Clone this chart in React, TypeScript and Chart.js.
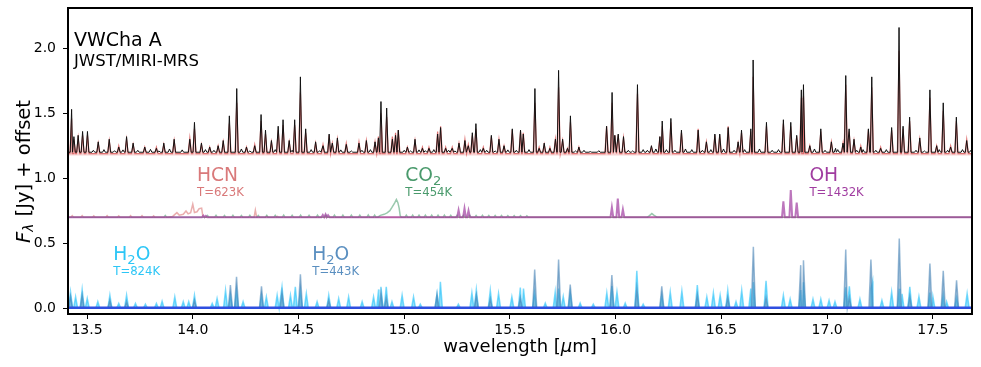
import React, { useEffect, useRef } from "react";
import { Chart, registerables } from "chart.js";
Chart.register(...registerables);

const FONT = "'DejaVu Sans', 'Liberation Sans', sans-serif";

// axis limits and ticks
const xLimits: [number, number] = [13.41, 17.685];
const yLimits: [number, number] = [-0.045, 2.31];
const xTickValues = [13.5, 14.0, 14.5, 15.0, 15.5, 16.0, 16.5, 17.0, 17.5];
const yTickValues = [0.0, 0.5, 1.0, 1.5, 2.0];

type P = [number, number];

// ---- observed spectrum (offset) ----
const obsBase = 1.2;
const obsPeaks: P[] = [
  [13.427,1.53],[13.438,1.32],[13.458,1.33],[13.479,1.36],[13.502,1.36],[13.553,1.28],[13.605,1.30],[13.650,1.24],[13.687,1.32],[13.718,1.27],[13.773,1.24],[13.828,1.23],[13.863,1.27],[13.912,1.30],[13.986,1.30],[14.008,1.43],[14.041,1.27],[14.080,1.24],[14.120,1.25],[14.144,1.29],[14.173,1.48],[14.208,1.69],[14.254,1.24],[14.293,1.25],[14.323,1.49],[14.344,1.37],[14.372,1.29],[14.404,1.40],[14.427,1.45],[14.456,1.29],[14.482,1.45],[14.509,1.78],[14.534,1.38],[14.581,1.28],[14.616,1.25],[14.645,1.34],[14.660,1.27],[14.684,1.31],[14.726,1.26],[14.786,1.27],[14.821,1.29],[14.862,1.28],[14.878,1.31],[14.890,1.59],[14.917,1.54],[14.944,1.30],[14.959,1.33],[14.972,1.37],[15.015,1.24],[15.051,1.30],[15.086,1.23],[15.117,1.23],[15.158,1.34],[15.172,1.39],[15.196,1.23],[15.227,1.23],[15.259,1.27],[15.287,1.29],[15.303,1.25],[15.322,1.35],[15.339,1.42],[15.374,1.23],[15.412,1.33],[15.448,1.30],[15.472,1.25],[15.511,1.38],[15.550,1.37],[15.563,1.34],[15.618,1.69],[15.638,1.23],[15.662,1.27],[15.689,1.23],[15.715,1.30],[15.730,1.83],[15.749,1.30],[15.772,1.23],[15.786,1.48],[15.826,1.24],[15.957,1.40],[15.983,1.66],[15.996,1.33],[16.012,1.34],[16.037,1.32],[16.103,1.72],[16.169,1.25],[16.209,1.32],[16.220,1.44],[16.261,1.46],[16.311,1.37],[16.390,1.37],[16.429,1.28],[16.469,1.34],[16.492,1.34],[16.532,1.39],[16.579,1.28],[16.595,1.37],[16.639,1.38],[16.650,1.91],[16.713,1.43],[16.793,1.45],[16.828,1.43],[16.856,1.33],[16.878,1.68],[16.888,1.72],[16.918,1.25],[16.970,1.38],[17.020,1.28],[17.075,1.27],[17.088,1.79],[17.104,1.38],[17.127,1.30],[17.159,1.24],[17.195,1.38],[17.211,1.78],[17.253,1.23],[17.305,1.39],[17.340,2.16],[17.359,1.40],[17.390,1.47],[17.438,1.31],[17.486,1.68],[17.518,1.25],[17.549,1.58],[17.584,1.24],[17.611,1.47],[17.660,1.29]
];
const obsMinor: P[] = [
  [13.53,1.215],[13.58,1.22],[13.63,1.212],[13.67,1.218],[13.74,1.215],[13.80,1.222],[13.84,1.21],[13.89,1.225],[13.95,1.218],[14.06,1.22],[14.10,1.215],[14.23,1.225],[14.27,1.21],[14.39,1.22],[14.47,1.215],[14.56,1.22],[14.60,1.212],[14.70,1.218],[14.75,1.21],[14.80,1.215],[14.84,1.22],[15.00,1.215],[15.03,1.21],[15.07,1.218],[15.10,1.212],[15.14,1.22],[15.21,1.215],[15.24,1.21],[15.36,1.22],[15.39,1.215],[15.43,1.21],[15.49,1.218],[15.53,1.215],[15.59,1.22],[15.81,1.21],[15.85,1.215],[15.88,1.205],[15.92,1.212],[16.06,1.215],[16.08,1.21],[16.13,1.22],[16.15,1.215],[16.19,1.225],[16.24,1.22],[16.28,1.215],[16.33,1.225],[16.36,1.22],[16.41,1.215],[16.45,1.22],[16.51,1.225],[16.56,1.215],[16.61,1.22],[16.68,1.225],[16.74,1.215],[16.77,1.22],[16.94,1.225],[16.99,1.215],[17.04,1.23],[17.05,1.22],[17.14,1.215],[17.17,1.22],[17.23,1.215],[17.28,1.22],[17.42,1.215],[17.46,1.21],[17.53,1.22],[17.57,1.215],[17.64,1.22],[17.68,1.215]
];

// ---- total slab model (offset) ----
const modelBase = 1.19;
const modelFillTo = 1.175;
const modelPeaks: P[] = [
  [13.427,1.46],[13.438,1.30],[13.458,1.31],[13.479,1.33],[13.502,1.33],[13.553,1.27],[13.605,1.29],[13.650,1.25],[13.687,1.30],[13.718,1.26],[13.773,1.24],[13.828,1.24],[13.863,1.26],[13.912,1.29],[13.986,1.31],[14.008,1.38],[14.041,1.26],[14.080,1.24],[14.120,1.25],[14.144,1.28],[14.173,1.42],[14.208,1.58],[14.254,1.24],[14.293,1.26],[14.323,1.44],[14.344,1.34],[14.372,1.28],[14.404,1.37],[14.427,1.41],[14.456,1.28],[14.482,1.41],[14.509,1.66],[14.534,1.35],[14.581,1.27],[14.616,1.26],[14.645,1.33],[14.660,1.27],[14.684,1.30],[14.726,1.27],[14.786,1.28],[14.821,1.29],[14.862,1.28],[14.878,1.32],[14.890,1.50],[14.917,1.47],[14.944,1.32],[14.959,1.35],[14.972,1.37],[15.015,1.24],[15.051,1.29],[15.086,1.24],[15.117,1.24],[15.158,1.36],[15.172,1.40],[15.196,1.24],[15.227,1.24],[15.259,1.27],[15.287,1.30],[15.303,1.26],[15.322,1.33],[15.339,1.38],[15.374,1.24],[15.412,1.32],[15.448,1.30],[15.472,1.25],[15.511,1.37],[15.550,1.36],[15.563,1.35],[15.618,1.58],[15.638,1.24],[15.662,1.26],[15.689,1.24],[15.715,1.30],[15.730,1.70],[15.749,1.29],[15.772,1.23],[15.786,1.43],[15.826,1.24],[15.957,1.40],[15.983,1.58],[15.996,1.33],[16.012,1.33],[16.037,1.31],[16.103,1.65],[16.169,1.24],[16.209,1.32],[16.220,1.40],[16.261,1.43],[16.311,1.35],[16.390,1.38],[16.429,1.28],[16.469,1.33],[16.492,1.33],[16.532,1.40],[16.579,1.27],[16.595,1.35],[16.639,1.36],[16.650,1.78],[16.713,1.40],[16.793,1.42],[16.828,1.40],[16.856,1.32],[16.878,1.62],[16.888,1.63],[16.918,1.25],[16.970,1.36],[17.020,1.28],[17.075,1.27],[17.088,1.72],[17.104,1.36],[17.127,1.29],[17.159,1.25],[17.195,1.37],[17.211,1.70],[17.253,1.24],[17.305,1.37],[17.340,1.98],[17.359,1.38],[17.390,1.44],[17.438,1.30],[17.486,1.62],[17.518,1.25],[17.549,1.52],[17.584,1.25],[17.611,1.44],[17.660,1.30]
];

// ---- individual molecules, middle panel ----
const midBase = 0.70;
const hcnPeaks: P[] = [
  [13.430,0.712],[13.477,0.712],[13.532,0.710],[13.595,0.712],[13.650,0.710],[13.706,0.712],[13.760,0.712],[13.815,0.710],[14.296,0.754],[14.35,0.706],[14.40,0.706]
];
const hcnBand: P[] = [
  [13.880,0.700],[13.905,0.706],[13.925,0.735],[13.936,0.716],[13.955,0.722],[13.968,0.748],[13.978,0.726],[13.990,0.735],[14.000,0.800],[14.008,0.736],[14.020,0.742],[14.030,0.765],[14.042,0.770],[14.048,0.705],[14.060,0.700]
];
const co2Peaks: P[] = [
  [13.87,0.713],[14.07,0.713],[14.11,0.714],[14.15,0.713],[14.19,0.714],[14.23,0.713],[14.27,0.714],[14.31,0.713],[14.35,0.714],[14.39,0.714],[14.43,0.715],[14.47,0.714],[14.51,0.715],[14.55,0.714],[14.59,0.715],[14.63,0.715],[14.67,0.716],[14.71,0.715],[14.75,0.716],[14.79,0.716],[14.83,0.717],[14.86,0.716],[15.01,0.716],[15.04,0.716],[15.07,0.715],[15.10,0.716],[15.13,0.715],[15.16,0.715],[15.19,0.715],[15.22,0.714],[15.25,0.714],[15.28,0.714],[15.31,0.714],[15.34,0.713],[15.37,0.714],[15.40,0.713],[15.43,0.713],[15.46,0.713],[15.49,0.712],[15.52,0.712],[15.55,0.712],[15.58,0.711]
];
const co2Band: P[] = [
  [14.875,0.700],[14.887,0.714],[14.905,0.722],[14.919,0.733],[14.932,0.750],[14.942,0.775],[14.955,0.810],[14.963,0.836],[14.970,0.812],[14.976,0.770],[14.981,0.712],[14.986,0.700],
  [16.150,0.700],[16.160,0.712],[16.171,0.728],[16.182,0.714],[16.195,0.700]
];
const ohPeaks: P[] = [
  [14.050,0.712],[14.062,0.710],[14.615,0.718],[14.628,0.721],[14.640,0.715],[15.257,0.754],[15.285,0.767],[15.304,0.750],[15.982,0.775],[16.010,0.844],[16.034,0.760],[16.793,0.823],[16.828,0.908],[16.856,0.813]
];

// ---- water, bottom panel ----
const h2oBase = 0.0;
const h2oWarmPeaks: P[] = [
  [13.422,0.125],[13.446,0.087],[13.477,0.144],[13.501,0.075],[13.551,0.05],[13.608,0.10],[13.650,0.036],[13.687,0.10],[13.729,0.036],[13.776,0.03],[13.828,0.036],[13.855,0.054],[13.915,0.087],[13.955,0.05],[13.981,0.05],[14.008,0.10],[14.092,0.036],[14.115,0.075],[14.155,0.138],[14.178,0.10],[14.207,0.14],[14.238,0.05],[14.325,0.10],[14.348,0.087],[14.399,0.10],[14.422,0.164],[14.462,0.10],[14.485,0.164],[14.509,0.14],[14.537,0.113],[14.588,0.05],[14.643,0.10],[14.690,0.075],[14.737,0.087],[14.801,0.05],[14.855,0.087],[14.879,0.144],[14.890,0.164],[14.915,0.164],[14.942,0.05],[14.990,0.10],[15.044,0.087],[15.076,0.03],[15.155,0.108],[15.171,0.203],[15.256,0.03],[15.320,0.118],[15.341,0.144],[15.407,0.138],[15.446,0.113],[15.509,0.087],[15.549,0.159],[15.564,0.151],[15.616,0.12],[15.667,0.04],[15.714,0.125],[15.730,0.15],[15.752,0.09],[15.785,0.12],[15.832,0.04],[15.894,0.03],[15.958,0.118],[15.982,0.17],[16.006,0.125],[16.045,0.04],[16.100,0.287],[16.130,0.03],[16.218,0.10],[16.258,0.125],[16.313,0.133],[16.386,0.177],[16.431,0.087],[16.462,0.118],[16.494,0.10],[16.530,0.138],[16.569,0.05],[16.596,0.138],[16.639,0.151],[16.651,0.20],[16.711,0.21],[16.793,0.10],[16.825,0.07],[16.875,0.14],[16.888,0.20],[16.933,0.07],[16.970,0.07],[17.009,0.06],[17.037,0.05],[17.088,0.16],[17.105,0.169],[17.155,0.07],[17.207,0.15],[17.215,0.208],[17.259,0.06],[17.305,0.125],[17.341,0.15],[17.354,0.11],[17.391,0.164],[17.434,0.09],[17.486,0.12],[17.500,0.09],[17.549,0.10],[17.565,0.05],[17.612,0.08],[17.662,0.113]
];
const h2oColdPeaks: P[] = [
  [13.422,0.09],[13.477,0.10],[13.608,0.06],[13.687,0.05],[14.008,0.06],[14.178,0.177],[14.207,0.241],[14.325,0.169],[14.422,0.12],[14.509,0.26],[14.643,0.06],[14.890,0.12],[14.915,0.08],[15.155,0.108],[15.341,0.10],[15.407,0.07],[15.549,0.08],[15.617,0.297],[15.730,0.374],[15.785,0.182],[15.982,0.254],[16.100,0.15],[16.218,0.169],[16.386,0.10],[16.530,0.08],[16.651,0.472],[16.711,0.08],[16.875,0.331],[16.888,0.369],[17.088,0.451],[17.105,0.08],[17.207,0.374],[17.341,0.536],[17.391,0.09],[17.486,0.344],[17.549,0.287],[17.612,0.215]
];
const h2oTotalLine: P[] = [[13.40,0.004],[17.70,0.004]];

// labels
const moleculeLabels = [
  { name: "HCN", sub: "", tail: "", temp: "T=623K", x: 14.02, color: "#d9797a" },
  { name: "CO", sub: "2", tail: "", temp: "T=454K", x: 15.005, color: "#4a9a6c" },
  { name: "OH", sub: "", tail: "", temp: "T=1432K", x: 16.916, color: "#a03ca0" },
];
const waterLabels = [
  { name: "H", sub: "2", tail: "O", temp: "T=824K", x: 13.624, color: "#2cc6f6" },
  { name: "H", sub: "2", tail: "O", temp: "T=443K", x: 14.565, color: "#5a8fc0" },
];

function buildSeries(peaks: P[], base: number, hw: number, extra: P[] = []) {
  const pts: { x: number; y: number }[] = [];
  pts.push({ x: xLimits[0] - 0.02, y: base });
  pts.push({ x: xLimits[1] + 0.02, y: base });
  for (const [lam, v] of peaks) {
    pts.push({ x: lam - hw, y: base }, { x: lam, y: v }, { x: lam + hw, y: base });
  }
  for (const [lam, v] of extra) pts.push({ x: lam, y: v });
  pts.sort((a, b) => a.x - b.x);
  return pts;
}

function drawParts(ctx: CanvasRenderingContext2D, x: number, y: number, main: string, sub: string, tail: string, size: number, color: string) {
  ctx.fillStyle = color;
  ctx.textAlign = "left";
  ctx.textBaseline = "alphabetic";
  ctx.font = `${size}px ${FONT}`;
  ctx.fillText(main, x, y);
  let cx = x + ctx.measureText(main).width;
  if (sub) {
    ctx.font = `${size * 0.7}px ${FONT}`;
    ctx.fillText(sub, cx, y + size * 0.22);
    cx += ctx.measureText(sub).width;
  }
  if (tail) {
    ctx.font = `${size}px ${FONT}`;
    ctx.fillText(tail, cx, y);
  }
}

const annotationPlugin = {
  id: "annotations",
  afterDraw(chart: any) {
    const ctx: CanvasRenderingContext2D = chart.ctx;
    const { left, right, top, bottom } = chart.chartArea;
    const xs = chart.scales.x;
    const ys = chart.scales.y;
    ctx.save();
    // frame
    ctx.strokeStyle = "#000";
    ctx.lineWidth = 2;
    ctx.strokeRect(left, top, right - left, bottom - top);

    // title texts
    ctx.fillStyle = "#000";
    ctx.textAlign = "left";
    ctx.textBaseline = "alphabetic";
    ctx.font = `19px ${FONT}`;
    ctx.fillText("VWCha A", left + 6, top + 38);
    ctx.font = `16.5px ${FONT}`;
    ctx.fillText("JWST/MIRI-MRS", left + 6, top + 58);

    // molecule labels
    for (const l of moleculeLabels) {
      const px = xs.getPixelForValue(l.x);
      drawParts(ctx, px, ys.getPixelForValue(0.98), l.name, l.sub, l.tail, 18.7, l.color);
      ctx.font = `11.7px ${FONT}`;
      ctx.fillStyle = l.color;
      ctx.fillText(l.temp, px, ys.getPixelForValue(0.864));
    }
    for (const l of waterLabels) {
      const px = xs.getPixelForValue(l.x);
      drawParts(ctx, px, ys.getPixelForValue(0.37), l.name, l.sub, l.tail, 18.7, l.color);
      ctx.font = `11.7px ${FONT}`;
      ctx.fillStyle = l.color;
      ctx.fillText(l.temp, px, ys.getPixelForValue(0.254));
    }

    // x axis title
    ctx.fillStyle = "#000";
    ctx.textBaseline = "middle";
    const xt1 = "wavelength [";
    const xt2 = "\u03bc";
    const xt3 = "m]";
    ctx.font = `18px ${FONT}`;
    const w1 = ctx.measureText(xt1).width;
    const w3 = ctx.measureText(xt3).width;
    ctx.font = `italic 18px ${FONT}`;
    const w2 = ctx.measureText(xt2).width;
    let sx = (left + right) / 2 - (w1 + w2 + w3) / 2;
    const ty = 347;
    ctx.font = `18px ${FONT}`;
    ctx.fillText(xt1, sx, ty);
    sx += w1;
    ctx.font = `italic 18px ${FONT}`;
    ctx.fillText(xt2, sx, ty);
    sx += w2;
    ctx.font = `18px ${FONT}`;
    ctx.fillText(xt3, sx, ty);

    // y axis title (rotated)
    ctx.save();
    ctx.translate(25, 172);
    ctx.rotate(-Math.PI / 2);
    const fs = 19.5;
    ctx.font = `italic ${fs}px ${FONT}`;
    const a = "F";
    const wa = ctx.measureText(a).width;
    ctx.font = `italic ${fs * 0.7}px ${FONT}`;
    const b = "\u03bb";
    const wb = ctx.measureText(b).width;
    ctx.font = `${fs}px ${FONT}`;
    const c = " [Jy] + offset";
    const wc = ctx.measureText(c).width;
    let yx = -(wa + wb + wc) / 2;
    ctx.textBaseline = "middle";
    ctx.font = `italic ${fs}px ${FONT}`;
    ctx.fillText(a, yx, 0);
    yx += wa;
    ctx.font = `italic ${fs * 0.7}px ${FONT}`;
    ctx.fillText(b, yx, fs * 0.25);
    yx += wb + 1;
    ctx.font = `${fs}px ${FONT}`;
    ctx.fillText(c, yx, 0);
    ctx.restore();

    ctx.restore();
  },
};

export default function App() {
  const canvasRef = useRef<HTMLCanvasElement | null>(null);

  useEffect(() => {
    const canvas = canvasRef.current;
    if (!canvas) return;

    const datasets: any[] = [
      {
        label: "observed",
        data: buildSeries([...obsPeaks, ...obsMinor], obsBase, 0.0065),
        borderColor: "#111111",
        borderWidth: 1,
        pointRadius: 0,
        fill: false,
        order: 1,
      },
      {
        label: "model",
        data: buildSeries(modelPeaks, modelBase, 0.008),
        borderColor: "rgba(214,72,72,0.75)",
        backgroundColor: "rgba(232,140,140,0.38)",
        borderWidth: 1.2,
        pointRadius: 0,
        fill: { value: modelFillTo },
        order: 2,
      },
      {
        label: "OH",
        data: buildSeries(ohPeaks, midBase, 0.0065),
        borderColor: "rgba(160,60,160,0.7)",
        borderWidth: 2,
        pointRadius: 0,
        fill: false,
        order: 3,
      },
      {
        label: "CO2",
        data: buildSeries(co2Peaks, midBase, 0.006, co2Band),
        borderColor: "rgba(70,155,105,0.55)",
        borderWidth: 1.5,
        pointRadius: 0,
        fill: false,
        order: 4,
      },
      {
        label: "HCN",
        data: buildSeries(hcnPeaks, midBase, 0.006, hcnBand),
        borderColor: "rgba(220,120,120,0.6)",
        borderWidth: 1.5,
        pointRadius: 0,
        fill: false,
        order: 5,
      },
      {
        label: "H2O total",
        data: h2oTotalLine.map(([x, y]) => ({ x, y })),
        borderColor: "#2f4fe0",
        borderWidth: 2.5,
        pointRadius: 0,
        fill: false,
        order: 6,
      },
      {
        label: "H2O 443K",
        data: buildSeries(h2oColdPeaks, h2oBase, 0.0095),
        borderColor: "rgba(70,130,180,0.55)",
        backgroundColor: "rgba(70,130,180,0.45)",
        borderWidth: 1.5,
        pointRadius: 0,
        fill: { value: h2oBase },
        order: 7,
      },
      {
        label: "H2O 824K",
        data: buildSeries(h2oWarmPeaks, h2oBase, 0.0095),
        borderColor: "rgba(40,195,250,0.6)",
        backgroundColor: "rgba(40,195,250,0.5)",
        borderWidth: 1.5,
        pointRadius: 0,
        fill: { value: h2oBase },
        order: 8,
      },
    ];

    const chart = new Chart(canvas, {
      type: "line",
      data: { datasets },
      options: {
        animation: false,
        responsive: false,
        devicePixelRatio: 1,
        layout: { padding: { top: 8, right: 9, left: 0, bottom: 0 } },
        plugins: {
          legend: { display: false },
          tooltip: { enabled: false },
          title: { display: false },
        },
        elements: { line: { tension: 0 } },
        scales: {
          x: {
            type: "linear",
            min: xLimits[0],
            max: xLimits[1],
            afterBuildTicks: (scale: any) => {
              scale.ticks = xTickValues.map((v) => ({ value: v }));
            },
            afterFit: (scale: any) => {
              scale.height = 53;
              scale.paddingLeft = 0;
              scale.paddingRight = 0;
            },
            ticks: {
              color: "#000",
              font: { family: FONT, size: 14 },
              padding: 3,
              maxRotation: 0,
              autoSkip: false,
              callback: (v: any) => Number(v).toFixed(1),
            },
            grid: {
              drawOnChartArea: false,
              drawTicks: true,
              tickLength: 5,
              color: "#000",
              lineWidth: 1,
            },
            border: { display: false },
          },
          y: {
            type: "linear",
            min: yLimits[0],
            max: yLimits[1],
            afterBuildTicks: (scale: any) => {
              scale.ticks = yTickValues.map((v) => ({ value: v }));
            },
            afterFit: (scale: any) => {
              scale.width = 68;
              scale.paddingTop = 0;
              scale.paddingBottom = 0;
            },
            ticks: {
              color: "#000",
              font: { family: FONT, size: 14 },
              padding: 7,
              autoSkip: false,
              callback: (v: any) => Number(v).toFixed(1),
            },
            grid: {
              drawOnChartArea: false,
              drawTicks: true,
              tickLength: 5,
              color: "#000",
              lineWidth: 1,
            },
            border: { display: false },
          },
        },
      },
      plugins: [annotationPlugin],
    } as any);

    return () => chart.destroy();
  }, []);

  return (
    <div style={{ position: "fixed", left: 0, top: 0, width: 981, height: 367, background: "#fff" }}>
      <canvas ref={canvasRef} width={981} height={367} style={{ display: "block" }} />
    </div>
  );
}
